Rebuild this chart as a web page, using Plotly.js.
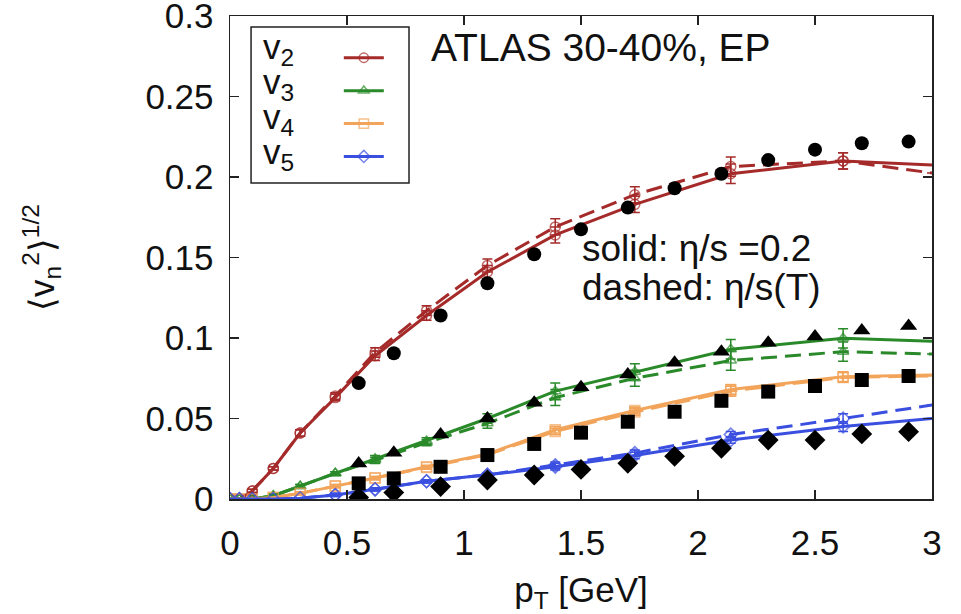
<!DOCTYPE html>
<html>
<head>
<meta charset="utf-8">
<script src="https://cdn.plot.ly/plotly-3.0.1.min.js"></script>
<style>html,body{margin:0;padding:0;background:#fff;}#chart{width:961px;height:614px;}</style>
</head>
<body>
<div id="chart"></div>
<script>
// ---- model pT points (hydro calculation), last point = curve end (no marker) ----
const ptModel = [0, 0.04, 0.095, 0.185, 0.3, 0.45, 0.62, 0.84, 1.1, 1.39, 1.73, 2.14, 2.62, 3.0];

// solid: eta/s = 0.2
const v2Solid  = [0, 0, 0.005, 0.019, 0.041, 0.063, 0.089, 0.114, 0.141, 0.164, 0.183, 0.202, 0.210, 0.2075];
const v3Solid  = [0, 0, 0, 0.002, 0.008, 0.016, 0.025, 0.036, 0.050, 0.067, 0.079, 0.093, 0.0998, 0.098];
const v4Solid  = [0, 0, 0, 0.001, 0.0035, 0.008, 0.013, 0.020, 0.028, 0.043, 0.055, 0.068, 0.076, 0.077];
const v5Solid  = [0, 0, 0, 0, 0.0005, 0.0025, 0.006, 0.011, 0.015, 0.020, 0.027, 0.0366, 0.045, 0.050];

// dashed: eta/s(T)
const v2Dashed = [0, 0, 0.005, 0.019, 0.041, 0.064, 0.091, 0.117, 0.145, 0.169, 0.189, 0.2065, 0.210, 0.2025];
const v3Dashed = [0, 0, 0, 0.002, 0.008, 0.016, 0.024, 0.035, 0.047, 0.063, 0.075, 0.086, 0.0915, 0.090];
const v4Dashed = [0, 0, 0, 0.001, 0.0035, 0.008, 0.013, 0.0195, 0.0275, 0.042, 0.054, 0.067, 0.0755, 0.0765];
const v5Dashed = [0, 0, 0, 0, 0.0005, 0.0025, 0.006, 0.011, 0.015, 0.021, 0.0285, 0.040, 0.050, 0.0584];

// statistical errors of the model points
const v2Err = [0, 0, 0.001, 0.001, 0.002, 0.002, 0.003, 0.003, 0.004, 0.005, 0.005, 0.006, 0.005];
const v3Err = [0, 0, 0, 0.001, 0.001, 0.001, 0.002, 0.002, 0.003, 0.005, 0.005, 0.006, 0.006];
const v4Err = [0, 0, 0, 0, 0.001, 0.001, 0.001, 0.001, 0.002, 0.002, 0.002, 0.003, 0.003];
const v5Err = [0, 0, 0, 0, 0, 0.001, 0.001, 0.001, 0.001, 0.002, 0.002, 0.002, 0.003];

// ---- ATLAS 30-40% EP data ----
const ptData = [0.55, 0.7, 0.9, 1.1, 1.3, 1.5, 1.7, 1.9, 2.1, 2.3, 2.5, 2.7, 2.9];
const v2Data = [0.072, 0.0905, 0.114, 0.134, 0.152, 0.1675, 0.181, 0.193, 0.202, 0.2105, 0.217, 0.221, 0.222];
const v3Data = [0.022, 0.0288, 0.040, 0.050, 0.0598, 0.0694, 0.0774, 0.0847, 0.0915, 0.097, 0.101, 0.1046, 0.1075];
const v4Data = [0.0097, 0.0128, 0.020, 0.0273, 0.0342, 0.0412, 0.048, 0.0542, 0.061, 0.0667, 0.0702, 0.0739, 0.0764];
const v5Data = [0.001, 0.004, 0.0077, 0.0118, 0.0149, 0.0184, 0.0222, 0.0265, 0.0315, 0.0366, 0.0366, 0.0404, 0.0418];

// ---- axis ticks ----
const xTicks = [0, 0.5, 1, 1.5, 2, 2.5, 3];
const xTickText = ['0', '0.5', '1', '1.5', '2', '2.5', '3'];
const yTicks = [0, 0.05, 0.1, 0.15, 0.2, 0.25, 0.3];
const yTickText = ['0', '0.05', '0.1', '0.15', '0.2', '0.25', '0.3'];

const seriesNames = ['v<sub>2</sub>', 'v<sub>3</sub>', 'v<sub>4</sub>', 'v<sub>5</sub>'];
const colors = ['#a52a2a', '#2a8a2a', '#f2a45a', '#3a4fe0'];
const openSymbols = ['circle-open', 'triangle-up-open', 'square-open', 'diamond-open'];
const dataSymbols = ['circle', 'triangle-up', 'square', 'diamond'];
const dataSizes = [14, 15, 14, 16];

const solids = [v2Solid, v3Solid, v4Solid, v5Solid];
const dasheds = [v2Dashed, v3Dashed, v4Dashed, v5Dashed];
const errs = [v2Err, v3Err, v4Err, v5Err];
const datas = [v2Data, v3Data, v4Data, v5Data];

const FONT = 'Liberation Sans, Arial, Helvetica, sans-serif';
const nMark = ptModel.length - 1;
const traces = [];

// dashed curves (drawn first, below)
dasheds.forEach((ys, i) => {
  traces.push({
    x: ptModel, y: ys, type: 'scatter', mode: 'lines+markers', showlegend: false,
    line: {color: colors[i], width: 3, dash: '16px,8px'},
    marker: {symbol: openSymbols[i], size: ptModel.map((_, k) => k < nMark ? 10 : 0), color: colors[i], line: {width: 1.5, color: colors[i]}},
    error_y: {type: 'data', array: errs[i].concat([null]), color: colors[i], thickness: 1.5, width: 5},
    hoverinfo: 'skip'
  });
});
// solid curves (legend entries: symbols only, labels drawn as annotations to the left)
solids.forEach((ys, i) => {
  traces.push({
    x: ptModel, y: ys, type: 'scatter', mode: 'lines+markers', name: '', showlegend: true,
    line: {color: colors[i], width: 3},
    marker: {symbol: openSymbols[i], size: ptModel.map((_, k) => k < nMark ? 10 : 0), color: colors[i], line: {width: 1.5, color: colors[i]}},
    error_y: {type: 'data', array: errs[i].concat([null]), color: colors[i], thickness: 1.5, width: 5},
    hoverinfo: 'skip'
  });
});
// ATLAS data (on top)
datas.forEach((ys, i) => {
  traces.push({
    x: ptData, y: ys, type: 'scatter', mode: 'markers', showlegend: false,
    marker: {symbol: dataSymbols[i], size: dataSizes[i], color: '#000'},
    hoverinfo: 'skip'
  });
});

const legTop = 0.931, legStep = 0.0725;
const annotations = seriesNames.map((t, i) => ({
  xref: 'paper', yref: 'paper', x: 0.044, y: legTop - i * legStep,
  xanchor: 'left', yanchor: 'middle', showarrow: false, text: t,
  font: {family: FONT, size: 35, color: '#111'}
}));
annotations.push(
  {xref: 'paper', yref: 'paper', x: 0.283, y: 0.934, xanchor: 'left', yanchor: 'middle', showarrow: false,
   text: 'ATLAS 30-40%, EP', font: {family: FONT, size: 39, color: '#111'}},
  {xref: 'paper', yref: 'paper', x: 0.499, y: 0.518, xanchor: 'left', yanchor: 'middle', showarrow: false,
   text: 'solid: η/s =0.2', font: {family: FONT, size: 37, color: '#111'}},
  {xref: 'paper', yref: 'paper', x: 0.499, y: 0.438, xanchor: 'left', yanchor: 'middle', showarrow: false,
   text: 'dashed: η/s(T)', font: {family: FONT, size: 37, color: '#111'}}
);

const axisCommon = {
  showline: true, mirror: 'ticks', linecolor: '#222', linewidth: 1.5,
  ticks: 'inside', ticklen: 9, tickwidth: 1.5, tickcolor: '#222',
  showgrid: false, zeroline: false, automargin: false, tickmode: 'array',
  ticklabeloverflow: 'allow',
  tickfont: {family: FONT, size: 35, color: '#111'}
};

const layout = {
  width: 961, height: 614,
  margin: {l: 230, r: 29, t: 16, b: 115},
  paper_bgcolor: '#fff', plot_bgcolor: '#fff',
  showlegend: true,
  legend: {x: 0.155, xanchor: 'left', y: 0.958, yanchor: 'top', bgcolor: 'rgba(0,0,0,0)', borderwidth: 0,
           font: {family: FONT, size: 23}, itemwidth: 40, tracegroupgap: 0},
  xaxis: Object.assign({}, axisCommon, {
    range: [0, 3], tickvals: xTicks, ticktext: xTickText, ticklabelstandoff: 12,
    title: {text: 'p<sub>T</sub> [GeV]', font: {family: FONT, size: 35, color: '#111'}, standoff: 22}
  }),
  yaxis: Object.assign({}, axisCommon, {
    range: [0, 0.3], tickvals: yTicks, ticktext: yTickText, ticklabelstandoff: 8,
    title: {text: '⟨v<sub>n</sub><sup>2</sup>⟩<sup>1/2</sup>', font: {family: FONT, size: 35, color: '#111'}, standoff: 80}
  }),
  shapes: [{type: 'rect', xref: 'paper', yref: 'paper', x0: 0.030, x1: 0.255, y0: 0.654, y1: 0.977,
            line: {color: '#222', width: 1.5}, fillcolor: 'rgba(0,0,0,0)'}],
  annotations: annotations
};

Plotly.newPlot('chart', traces, layout, {staticPlot: true, displayModeBar: false});
</script>
</body>
</html>
